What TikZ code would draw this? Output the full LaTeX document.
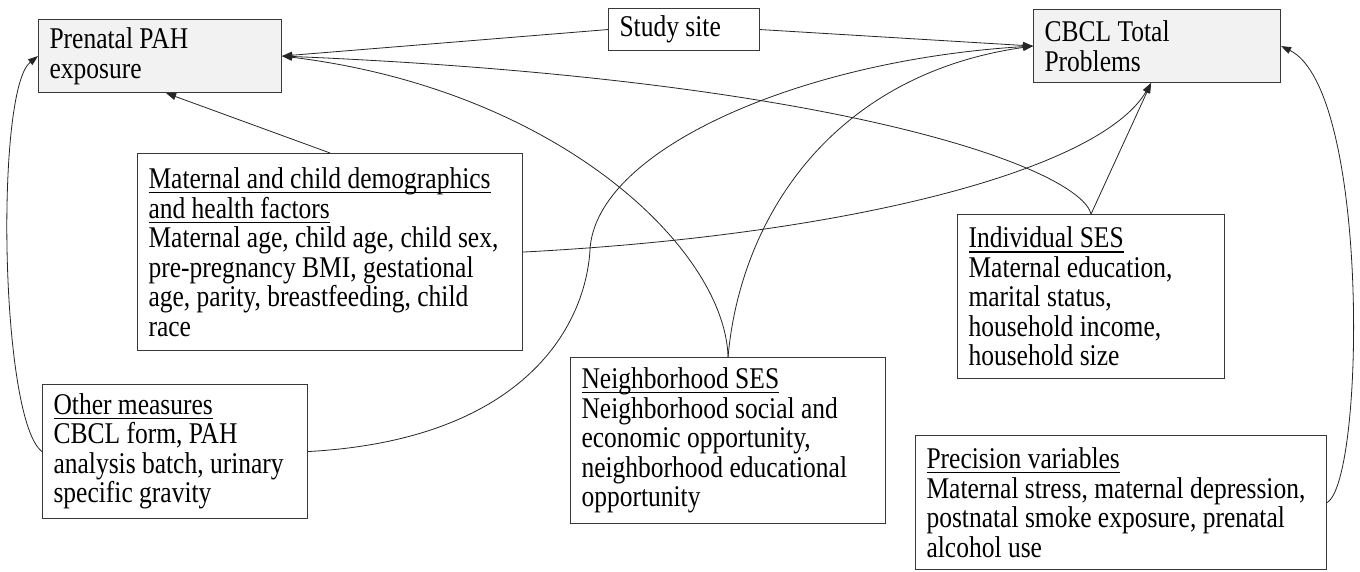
\documentclass[tikz,border=0pt]{standalone}
\usepackage{fontspec}
\setmainfont{Liberation Serif}
\usepackage{amsmath}
\usepackage{graphicx}
\usetikzlibrary{arrows.meta,calc}
\newcommand{\hdr}[1]{\underline{\smash[b]{#1}}}
\newcommand{\tblock}[2]{\scalebox{1}[1.18]{\parbox[c]{#1}{\raggedright\fontsize{25.5}{25}\selectfont #2}}}
\begin{document}
\begin{tikzpicture}[x=1pt,y=-1pt,
  box/.style={draw=black!78, line width=1.1pt, inner xsep=11pt, inner ysep=0pt,
    anchor=north west, text=black},
  gbox/.style={box, fill=black!5},
  edge/.style={line width=0.8pt, draw=black!85, -{Triangle[length=10pt,width=7pt]}}]
\useasboundingbox (0,0) rectangle (1360,572);
\fill[white] (0,0) rectangle (1360,572);

\node[gbox, minimum width=243pt, minimum height=73pt] (pah) at (38,19)
  {\tblock{221pt}{Prenatal PAH\\exposure}};
\node[box, minimum width=151pt, minimum height=42pt] (study) at (608,8)
  {\tblock{129pt}{Study site}};
\node[gbox, minimum width=247pt, minimum height=73pt] (cbcl) at (1033,9)
  {\tblock{225pt}{CBCL Total\\Problems}};
\node[box, minimum width=385pt, minimum height=197pt] (mat) at (137,153)
  {\tblock{363pt}{\hdr{Maternal and child demographics}\\\hdr{and health factors}\\Maternal age, child age, child sex,\\pre-pregnancy BMI, gestational\\age, parity, breastfeeding, child\\race}};
\node[box, minimum width=267pt, minimum height=164pt] (ind) at (957,214)
  {\tblock{245pt}{\hdr{Individual SES}\\Maternal education,\\marital status,\\household income,\\household size}};
\node[box, minimum width=265pt, minimum height=134pt] (oth) at (42,384)
  {\tblock{243pt}{\hdr{Other measures}\\CBCL form, PAH\\analysis batch, urinary\\specific gravity}};
\node[box, minimum width=315pt, minimum height=166pt] (nbh) at (570,357)
  {\tblock{293pt}{\hdr{Neighborhood SES}\\Neighborhood social and\\economic opportunity,\\neighborhood educational\\opportunity}};
\node[box, minimum width=411pt, minimum height=134pt] (prec) at (915,435)
  {\tblock{389pt}{\hdr{Precision variables}\\Maternal stress, maternal depression,\\postnatal smoke exposure, prenatal\\alcohol use}};

\coordinate (bend) at (590,250);

\draw[edge] (study.west) -- (pah.east);
\draw[edge] (study.east) -- (cbcl.west);
\draw[edge] (mat.north) -- ([xshift=6pt]pah.south);
\draw[edge] (ind.north) -- ([xshift=-6pt]cbcl.south);
\draw[edge] (ind.north) .. controls (1080,170) and (850,80) .. (pah.east);
\draw[edge] (mat.east) .. controls (850,235) and (1100,170) .. ([xshift=-6pt]cbcl.south);
\draw[edge] (nbh.north) .. controls (725,250) and (560,90) .. (pah.east);
\draw[edge] (nbh.north) .. controls (740,220) and (830,75) .. (cbcl.west);
\draw[edge] (oth.east) .. controls (520,440) and (585,330) .. (bend) .. controls (595,150) and (800,60) .. (cbcl.west);
\draw[edge] (oth.west) .. controls (0,420) and (-5,90) .. (pah.west);
\draw[edge] (prec.east) .. controls (1365,480) and (1370,90) .. (cbcl.east);
\end{tikzpicture}
\end{document}
